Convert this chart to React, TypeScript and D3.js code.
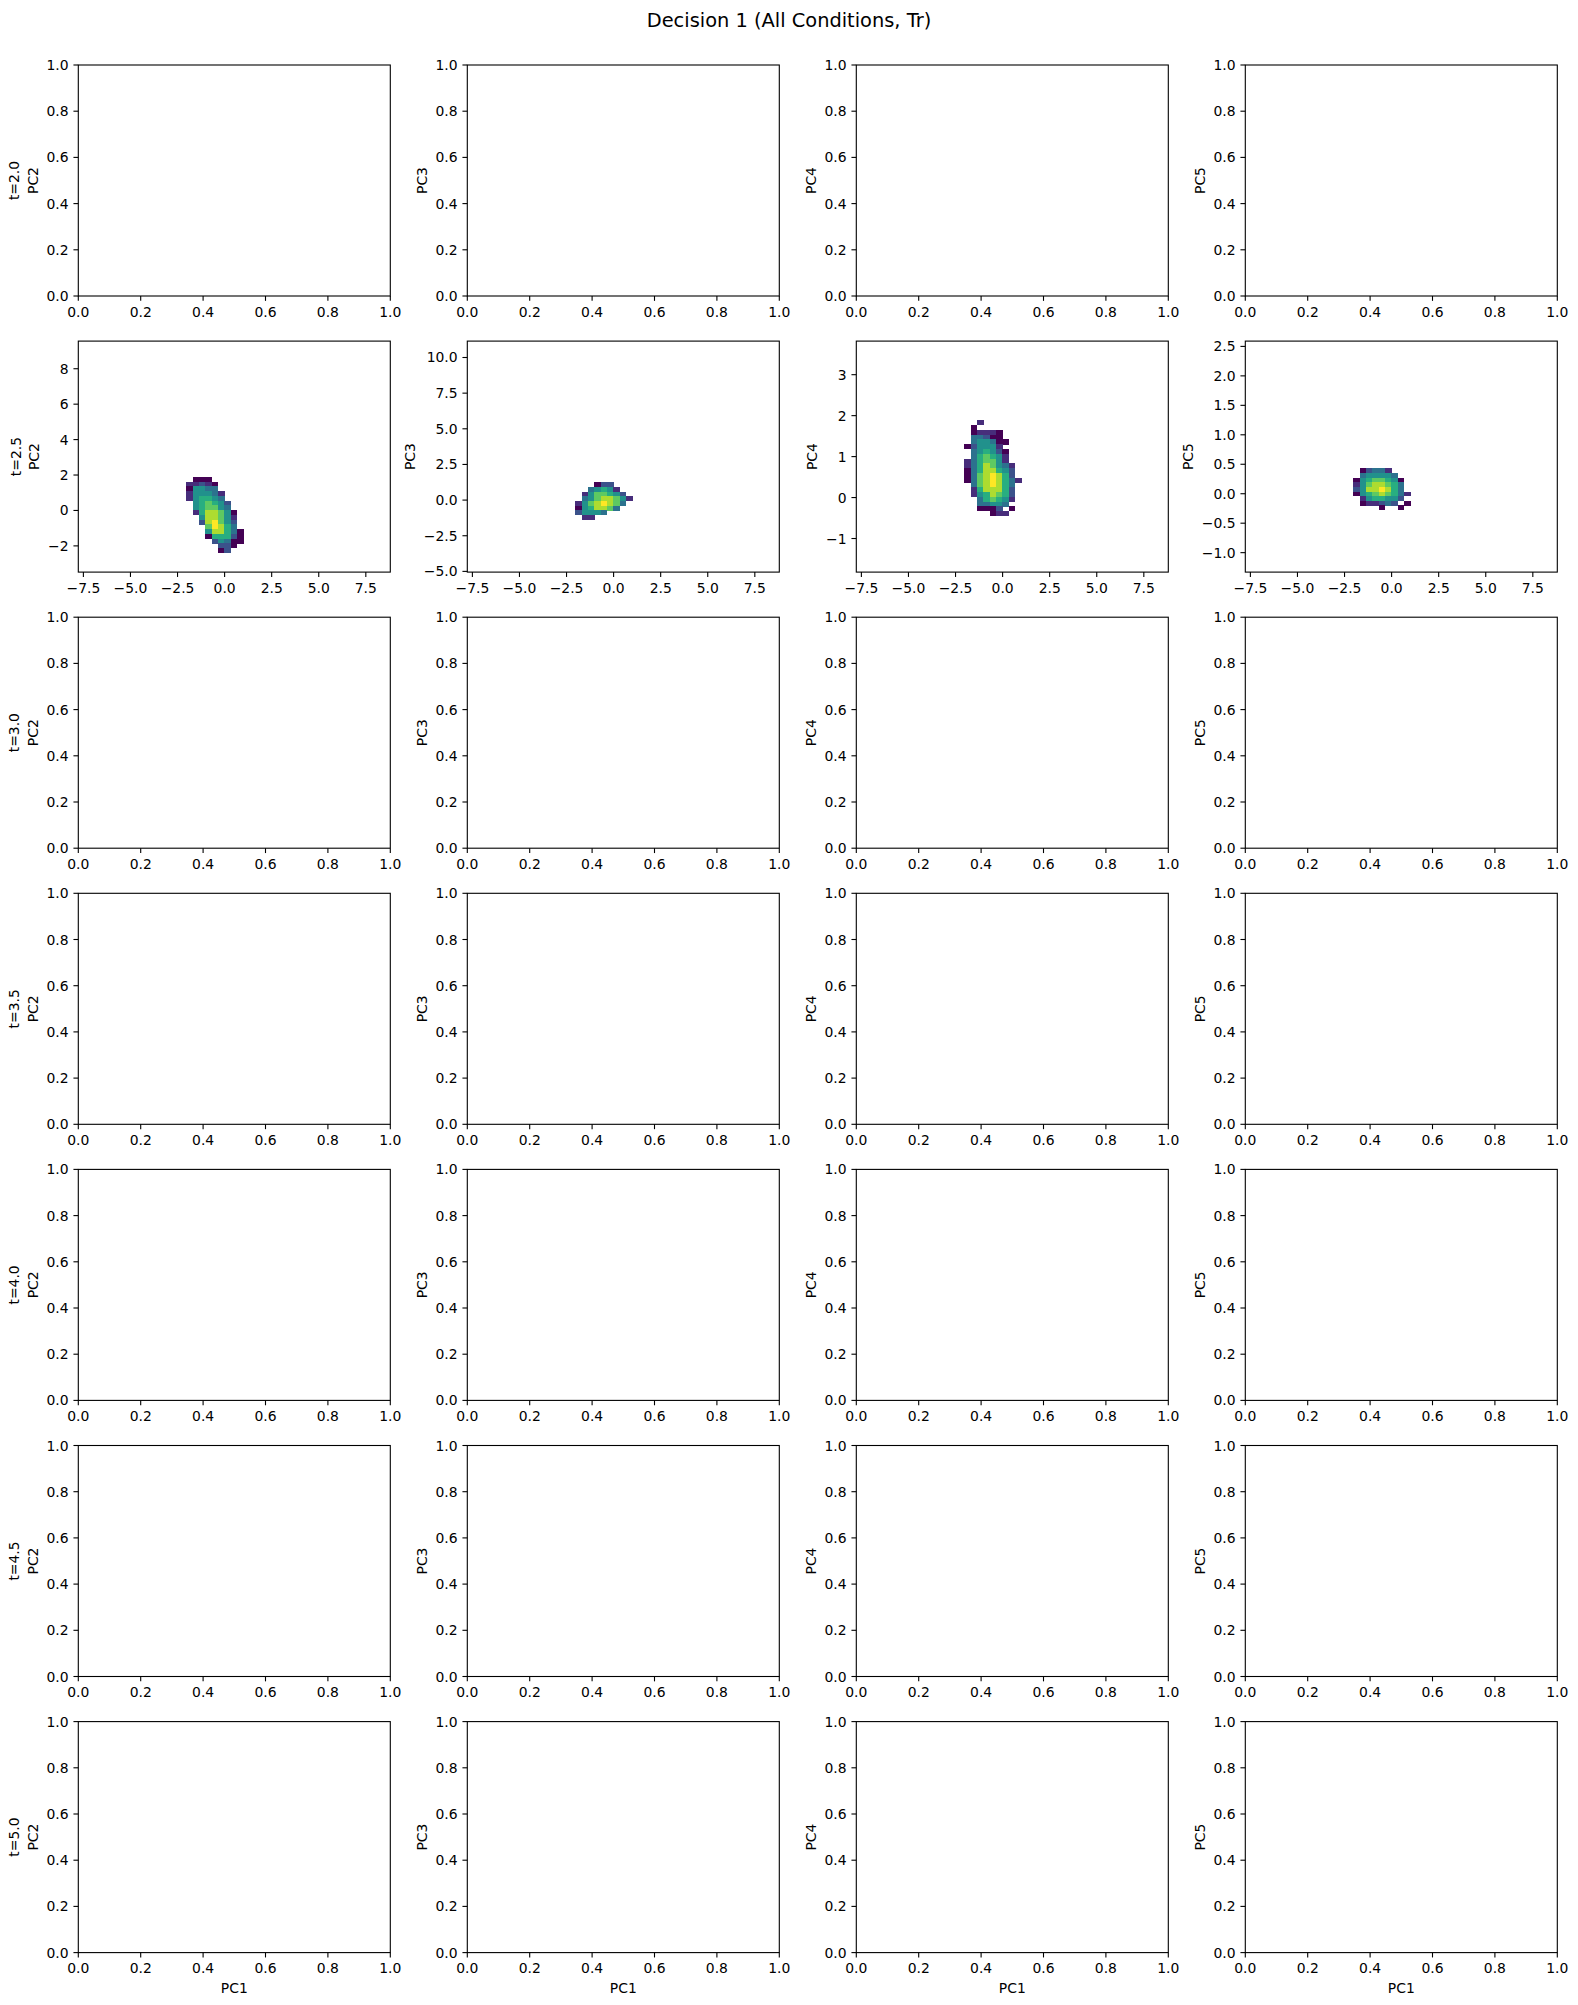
import * as d3 from "d3";

const W = 1578;
const H = 2005;
const FONT = "DejaVu Sans, Verdana, sans-serif";
const FS = 13.9;

const TITLE = "Decision 1 (All Conditions, Tr)";
const TIMES = ["t=2.0", "t=2.5", "t=3.0", "t=3.5", "t=4.0", "t=4.5", "t=5.0"];
const PCS = ["PC2", "PC3", "PC4", "PC5"];
const FILLED_ROW = 1; // only t=2.5 has data

// empty panels
const UNIT_TICKS = [0, 0.2, 0.4, 0.6, 0.8, 1.0];

// t=2.5 axes
const PC1_DOMAIN = [-7.77, 8.8];
const PC1_TICKS = [-7.5, -5, -2.5, 0, 2.5, 5, 7.5];
const PC2_DOMAIN = [-3.48, 9.56];
const PC2_TICKS = [-2, 0, 2, 4, 6, 8];
const PC3_DOMAIN = [-5.05, 11.15];
const PC3_TICKS = [-5, -2.5, 0, 2.5, 5, 7.5, 10];
const PC4_DOMAIN = [-1.82, 3.82];
const PC4_TICKS = [-1, 0, 1, 2, 3];
const PC5_DOMAIN = [-1.33, 2.59];
const PC5_TICKS = [-1, -0.5, 0, 0.5, 1, 1.5, 2, 2.5];

// 2d histogram bins (left edge of first column, bin width in PC1)
const BIN_X0 = -2.04;
const BIN_DX = 0.338;
// top edge of first row and row height, per PC
const BIN_TOP = [1.89, 1.26, 1.884, 0.43];
const BIN_DY = [0.268, 0.33, 0.1165, 0.0785];

// counts on a 1..9 relative scale, 0 = empty bin, rows top -> bottom
const PC2_COUNTS = [
  [0, 1, 1, 1, 0, 0, 0, 0, 0],
  [2, 2, 3, 2, 1, 0, 0, 0, 0],
  [1, 5, 5, 4, 4, 0, 0, 0, 0],
  [2, 5, 5, 5, 4, 2, 0, 0, 0],
  [2, 5, 6, 6, 5, 4, 0, 0, 0],
  [0, 5, 6, 7, 6, 5, 3, 0, 0],
  [0, 5, 6, 7, 7, 5, 4, 0, 0],
  [0, 2, 6, 8, 8, 7, 5, 1, 0],
  [0, 0, 5, 8, 8, 7, 5, 2, 0],
  [0, 0, 3, 8, 9, 7, 5, 3, 0],
  [0, 0, 0, 7, 9, 8, 6, 4, 0],
  [0, 0, 0, 5, 8, 8, 6, 4, 1],
  [0, 0, 0, 1, 6, 6, 6, 3, 1],
  [0, 0, 0, 0, 3, 5, 4, 1, 1],
  [0, 0, 0, 0, 0, 3, 3, 1, 0],
  [0, 0, 0, 0, 0, 1, 3, 0, 0],
];

const PC3_COUNTS = [
  [0, 0, 0, 1, 3, 3, 0, 0, 0],
  [0, 0, 4, 5, 6, 5, 2, 0, 0],
  [0, 2, 5, 7, 7, 6, 5, 3, 0],
  [0, 4, 5, 7, 8, 8, 7, 5, 2],
  [2, 5, 7, 8, 9, 8, 7, 4, 0],
  [1, 5, 6, 8, 8, 7, 4, 0, 0],
  [3, 5, 5, 5, 4, 0, 0, 0, 0],
  [0, 2, 2, 0, 0, 0, 0, 0, 0],
];

const PC4_COUNTS = [
  [0, 0, 2, 0, 0, 0, 0, 0, 0],
  [0, 1, 0, 0, 0, 0, 0, 0, 0],
  [0, 1, 2, 2, 2, 1, 0, 0, 0],
  [0, 4, 4, 3, 1, 1, 0, 0, 0],
  [0, 4, 5, 5, 4, 1, 1, 0, 0],
  [1, 3, 5, 5, 5, 2, 0, 0, 0],
  [0, 4, 5, 6, 5, 3, 1, 0, 0],
  [0, 4, 6, 7, 6, 5, 2, 0, 0],
  [2, 4, 6, 7, 7, 5, 2, 0, 0],
  [2, 4, 6, 8, 7, 5, 4, 2, 0],
  [1, 4, 6, 8, 8, 6, 5, 3, 0],
  [1, 4, 7, 8, 9, 8, 6, 3, 0],
  [1, 4, 7, 8, 9, 8, 6, 4, 2],
  [0, 4, 7, 8, 9, 8, 6, 4, 0],
  [0, 2, 6, 8, 8, 8, 6, 3, 0],
  [0, 2, 5, 6, 8, 7, 6, 3, 0],
  [0, 0, 4, 6, 7, 6, 5, 2, 0],
  [0, 0, 4, 4, 5, 5, 4, 0, 0],
  [0, 0, 1, 1, 1, 3, 0, 1, 0],
  [0, 0, 0, 0, 1, 2, 2, 0, 0],
];

const PC5_COUNTS = [
  [0, 1, 3, 4, 4, 2, 0, 0, 0],
  [0, 4, 5, 5, 5, 5, 4, 0, 0],
  [1, 5, 6, 7, 7, 6, 5, 1, 0],
  [2, 5, 7, 8, 8, 7, 6, 4, 0],
  [3, 5, 8, 8, 9, 8, 6, 4, 0],
  [1, 5, 6, 7, 8, 7, 6, 4, 2],
  [0, 2, 5, 6, 6, 5, 5, 3, 0],
  [0, 1, 2, 2, 3, 4, 3, 0, 1],
  [0, 0, 0, 0, 1, 0, 0, 1, 0],
];

// layout (px)
const AX_LEFT = [78.3, 467.3, 856.3, 1245.3];
const AX_W = 312;
const AX_TOP = 65;
const ROW_STEP = 276.1;
const AX_H = 231;
const TICK = 4.86;
const PAD = 4.86;
const LABELPAD = 5.56;

const color = d3.scaleSequential(d3.interpolateViridis).domain([1, 9]);

// DejaVu Sans advance widths (em) for tick label strings
function textWidth(s: string) {
  let w = 0;
  for (const c of s) {
    if (c === ".") w += 0.318;
    else if (c === "\u2212") w += 0.838;
    else w += 0.636;
  }
  return w * FS;
}

const fmt1 = d3.format(".1f");
const fmtInt = d3.format("d");

function Panel({ row, col }: { row: number; col: number }) {
  const filled = row === FILLED_ROW;
  const left = AX_LEFT[col];
  const top = AX_TOP + row * ROW_STEP;
  const pcDomains = [PC2_DOMAIN, PC3_DOMAIN, PC4_DOMAIN, PC5_DOMAIN];
  const pcTicks = [PC2_TICKS, PC3_TICKS, PC4_TICKS, PC5_TICKS];
  const pcFmt = [fmtInt, fmt1, fmtInt, fmt1];
  const counts = [PC2_COUNTS, PC3_COUNTS, PC4_COUNTS, PC5_COUNTS][col];

  const x = d3
    .scaleLinear()
    .domain(filled ? PC1_DOMAIN : [0, 1])
    .range([left, left + AX_W]);
  const y = d3
    .scaleLinear()
    .domain(filled ? pcDomains[col] : [0, 1])
    .range([top + AX_H, top]);
  const xTicks = filled ? PC1_TICKS : UNIT_TICKS;
  const yTicks = filled ? pcTicks[col] : UNIT_TICKS;
  const yFmt = filled ? pcFmt[col] : fmt1;
  const yLabels = yTicks.map((t) => yFmt(t));
  const maxW = d3.max(yLabels, textWidth) || 0;
  const labelX = left - TICK - PAD - maxW - LABELPAD - 3.3;
  const cy = top + AX_H / 2;
  const bottom = top + AX_H;

  const cells: any[] = [];
  if (filled) {
    counts.forEach((r, i) =>
      r.forEach((v, j) => {
        if (!v) return;
        const x0 = x(BIN_X0 + j * BIN_DX);
        const x1 = x(BIN_X0 + (j + 1) * BIN_DX);
        const y0 = y(BIN_TOP[col] - i * BIN_DY[col]);
        const y1 = y(BIN_TOP[col] - (i + 1) * BIN_DY[col]);
        cells.push(
          <rect
            key={`${i}-${j}`}
            x={x0}
            y={y0}
            width={x1 - x0 + 0.3}
            height={y1 - y0 + 0.3}
            fill={color(v)}
          />
        );
      })
    );
  }

  return (
    <g>
      <g shapeRendering="crispEdges">{cells}</g>
      <rect
        x={left}
        y={top}
        width={AX_W}
        height={AX_H}
        fill="none"
        stroke="#000"
        strokeWidth={1.1}
      />
      {xTicks.map((t) => (
        <g key={`x${t}`}>
          <line x1={x(t)} x2={x(t)} y1={bottom} y2={bottom + TICK} stroke="#000" strokeWidth={1.1} />
          <text x={x(t)} y={bottom + 20.5} textAnchor="middle" fontSize={FS}>
            {fmt1(t)}
          </text>
        </g>
      ))}
      {yTicks.map((t, k) => (
        <g key={`y${t}`}>
          <line x1={left - TICK} x2={left} y1={y(t)} y2={y(t)} stroke="#000" strokeWidth={1.1} />
          <text x={left - TICK - PAD} y={y(t) + 5} textAnchor="end" fontSize={FS}>
            {yLabels[k]}
          </text>
        </g>
      ))}
      <text
        transform={`translate(${labelX},${cy}) rotate(-90)`}
        textAnchor="middle"
        fontSize={FS}
      >
        {PCS[col]}
      </text>
      {col === 0 && (
        <text
          transform={`translate(${labelX - 18.6},${cy}) rotate(-90)`}
          textAnchor="middle"
          fontSize={FS}
        >
          {TIMES[row]}
        </text>
      )}
      {row === TIMES.length - 1 && (
        <text x={left + AX_W / 2} y={bottom + 40} textAnchor="middle" fontSize={FS}>
          PC1
        </text>
      )}
    </g>
  );
}

export default function App() {
  return (
    <div style={{ position: "absolute", left: 0, top: 0, background: "#fff" }}>
      <svg width={W} height={H} fontFamily={FONT} style={{ display: "block" }}>
        <rect width={W} height={H} fill="#fff" />
        <text x={W / 2} y={27} textAnchor="middle" fontSize={19.4}>
          {TITLE}
        </text>
        {TIMES.map((_, r) =>
          PCS.map((_, c) => <Panel key={`${r}-${c}`} row={r} col={c} />)
        )}
      </svg>
    </div>
  );
}
